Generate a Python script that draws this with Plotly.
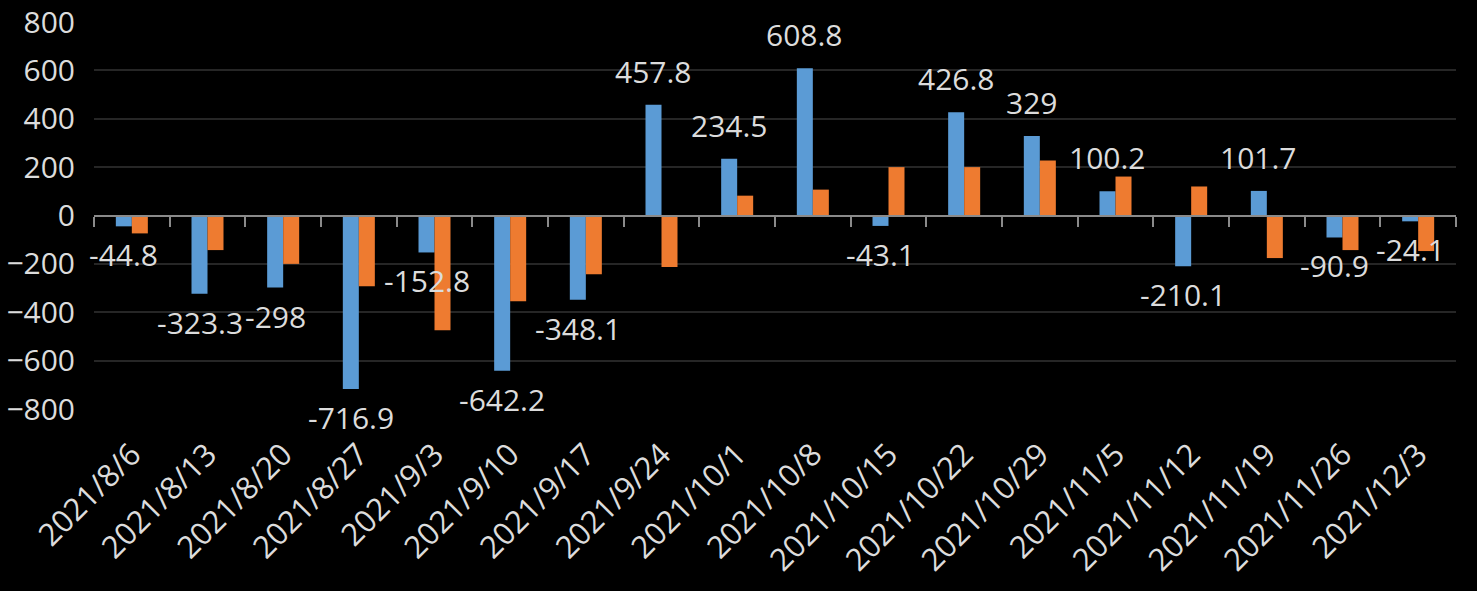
import plotly.graph_objects as go

categories = ["2021/8/6", "2021/8/13", "2021/8/20", "2021/8/27", "2021/9/3", "2021/9/10",
              "2021/9/17", "2021/9/24", "2021/10/1", "2021/10/8", "2021/10/15", "2021/10/22",
              "2021/10/29", "2021/11/5", "2021/11/12", "2021/11/19", "2021/11/26", "2021/12/3"]
blue_values = [-44.8, -323.3, -298, -716.9, -152.8, -642.2, -348.1, 457.8, 234.5, 608.8,
               -43.1, 426.8, 329, 100.2, -210.1, 101.7, -90.9, -24.1]
orange_values = [-74, -143, -200, -293, -474, -355, -243, -213, 82, 107,
                 200, 200, 227, 161, 120, -176, -143, -147]
y_ticks = [-800, -600, -400, -200, 0, 200, 400, 600, 800]

FONT = "Open Sans"
TXT = "#dcdcdc"
FS = 30

fig = go.Figure()
fig.add_trace(go.Bar(x=categories, y=blue_values, name="A",
                     marker=dict(color="#5b9bd5", line=dict(width=0))))
fig.add_trace(go.Bar(x=categories, y=orange_values, name="B",
                     marker=dict(color="#ee7b30", line=dict(width=0))))
# invisible helper trace so the zero-line axis (x2) is drawn
n = len(categories)
fig.add_trace(go.Scatter(x=list(range(n)), y=blue_values, xaxis="x2", yaxis="y",
                         mode="none", hoverinfo="skip", showlegend=False))

for c, v in zip(categories, blue_values):
    fig.add_annotation(x=c, y=v, xref="x", yref="y", text=f"{v:g}", showarrow=False,
                       xshift=-8, yshift=11 if v >= 0 else -6,
                       yanchor="bottom" if v >= 0 else "top",
                       font=dict(family=FONT, size=FS, color=TXT))

fig.update_layout(
    width=1477, height=591,
    paper_bgcolor="black", plot_bgcolor="black",
    margin=dict(l=94, r=21, t=22, b=182),
    barmode="group", bargap=0.577, bargroupgap=0,
    showlegend=False,
    font=dict(family=FONT, size=FS, color=TXT),
    xaxis=dict(type="category", range=[-0.5, n - 0.5], showgrid=False, showline=False,
               ticks="", tickangle=-45, tickfont=dict(family=FONT, size=31, color=TXT),
               ticklabelstandoff=20, automargin=False),
    xaxis2=dict(overlaying="x", anchor="free", position=0.5, range=[-0.5, n - 0.5],
                showgrid=False, showline=True, linecolor="#8a8a8a", linewidth=2,
                ticks="outside", ticklen=10, tickwidth=2, tickcolor="#8a8a8a",
                tickmode="array", tickvals=[i - 0.5 for i in range(n + 1)],
                showticklabels=False, zeroline=False, side="bottom", automargin=False),
    yaxis=dict(range=[-800, 800], tickvals=y_ticks, showgrid=True, gridcolor="#262626",
               gridwidth=2, zeroline=False, showline=False, ticks="",
               tickfont=dict(family=FONT, size=FS, color=TXT), ticklabelstandoff=18,
               automargin=False),
)

fig.write_html("out.html", config={"displayModeBar": False},
               post_script="document.body.style.margin='0';")
